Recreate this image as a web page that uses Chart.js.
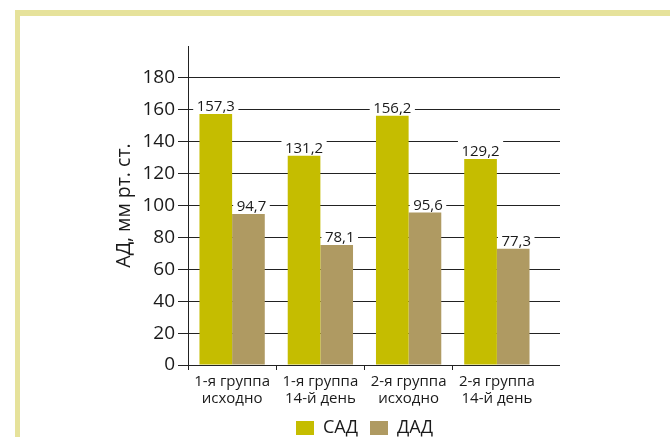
<!DOCTYPE html>
<html>
<head>
<meta charset="utf-8">
<script src="https://cdn.jsdelivr.net/npm/chart.js@4"></script>
<style>
  html, body { margin: 0; padding: 0; background: #fff; }
  #wrap { position: relative; width: 670px; height: 437px; overflow: hidden; }
  #frame {
    position: absolute; left: 15px; top: 10px; right: -20px; bottom: -20px;
    border-top: 6px solid #e6e29b; border-left: 5px solid #e6e29b;
  }
  canvas { position: absolute; left: 0; top: 0; }
</style>
</head>
<body>
<div id="wrap">
  <div id="frame"></div>
  <canvas id="chart" width="670" height="437"></canvas>
</div>
<script>
// categories (two lines each)
const categories = [
    ['1-я группа', 'исходно'],
    ['1-я группа', '14-й день'],
    ['2-я группа', 'исходно'],
    ['2-я группа', '14-й день']
];

// bar heights as drawn in the picture
const sadValues = [157.3, 131.2, 156.2, 129.2];
const dadValues = [94.7, 75.2, 95.6, 72.9];

// printed value labels
const sadLabels = ['157,3', '131,2', '156,2', '129,2'];
const dadLabels = ['94,7', '78,1', '95,6', '77,3'];

const yMax = 200;
const yTickMax = 180;
const yStep = 20;

const textColor = '#1a1a1a';
const lineColor = '#222';

Chart.defaults.font.family = "'Open Sans', sans-serif";

const alignPx = (p) => Math.round(p - 0.5) + 0.5;

// gridlines run a little past the last category
const gridExtend = {
    id: 'gridExtend',
    beforeDatasetsDraw(chart) {
        const { ctx, chartArea, scales } = chart;
        const y = scales.y;
        ctx.save();
        ctx.strokeStyle = lineColor;
        ctx.lineWidth = 1;
        ctx.beginPath();
        y.ticks.forEach(t => {
            const py = alignPx(y.getPixelForValue(t.value));
            ctx.moveTo(chartArea.right - 1, py);
            ctx.lineTo(chartArea.right + 19, py);
        });
        ctx.stroke();
        ctx.restore();
    }
};

// value labels with white backing that breaks the gridlines
const valueLabels = {
    id: 'valueLabels',
    beforeDatasetsDraw(chart) {
        const { ctx } = chart;
        ctx.save();
        ctx.font = "15px 'Open Sans'";
        ctx.fillStyle = '#fff';
        chart.data.datasets.forEach((ds, i) => {
            chart.getDatasetMeta(i).data.forEach((bar, j) => {
                const txt = ds.valueLabels[j];
                const w = ctx.measureText(txt).width;
                const cx = bar.x + ds.labelShift;
                ctx.fillRect(cx - w / 2 - 3.5, bar.y - 19, w + 7, 19);
            });
        });
        ctx.restore();
    },
    afterDatasetsDraw(chart) {
        const { ctx } = chart;
        ctx.save();
        ctx.font = "15px 'Open Sans'";
        ctx.fillStyle = textColor;
        ctx.textAlign = 'center';
        ctx.textBaseline = 'alphabetic';
        chart.data.datasets.forEach((ds, i) => {
            chart.getDatasetMeta(i).data.forEach((bar, j) => {
                ctx.fillText(ds.valueLabels[j], bar.x + ds.labelShift, bar.y - 3);
            });
        });
        ctx.restore();
    }
};

new Chart(document.getElementById('chart'), {
    type: 'bar',
    data: {
        labels: categories,
        datasets: [
            { label: 'САД', data: sadValues, backgroundColor: '#c5bd00', valueLabels: sadLabels, labelShift: 0 },
            { label: 'ДАД', data: dadValues, backgroundColor: '#af9a62', valueLabels: dadLabels, labelShift: 3 }
        ]
    },
    options: {
        responsive: false,
        animation: false,
        layout: {
            padding: { left: 59, top: 46, right: 0, bottom: 0 }
        },
        datasets: {
            bar: { categoryPercentage: 0.74, barPercentage: 1 }
        },
        scales: {
            x: {
                grid: {
                    drawOnChartArea: false,
                    tickLength: 5,
                    color: (c) => c.type === 'tick' ? lineColor : 'rgba(0,0,0,0)'
                },
                border: { color: lineColor },
                ticks: {
                    color: textColor,
                    font: { size: 15, lineHeight: 1.15 },
                    padding: 3,
                    maxRotation: 0,
                    autoSkip: false
                },
                afterFit: (s) => { s.height = 42; }
            },
            y: {
                min: 0,
                max: yMax,
                ticks: {
                    stepSize: yStep,
                    color: textColor,
                    font: { size: 19 },
                    padding: 3
                },
                afterBuildTicks: (s) => {
                    s.ticks = s.ticks.filter(t => t.value <= yTickMax);
                },
                grid: { color: lineColor, tickLength: 10 },
                border: { color: lineColor },
                title: {
                    display: true,
                    text: 'АД, мм рт. ст.',
                    color: textColor,
                    font: { size: 19.5 },
                    padding: { top: 54, bottom: 0 }
                },
                afterFit: (s) => { s.width = 129; }
            },
            spacer: {
                type: 'linear',
                axis: 'y',
                position: 'right',
                grid: { display: false },
                ticks: { display: false },
                border: { display: false },
                afterFit: (s) => { s.width = 129; }
            }
        },
        plugins: {
            legend: {
                position: 'bottom',
                maxHeight: 30,
                labels: {
                    boxWidth: 18,
                    boxHeight: 14,
                    padding: 12,
                    color: textColor,
                    font: { size: 18 }
                }
            },
            tooltip: { enabled: false }
        }
    },
    plugins: [gridExtend, valueLabels]
});
</script>
</body>
</html>
